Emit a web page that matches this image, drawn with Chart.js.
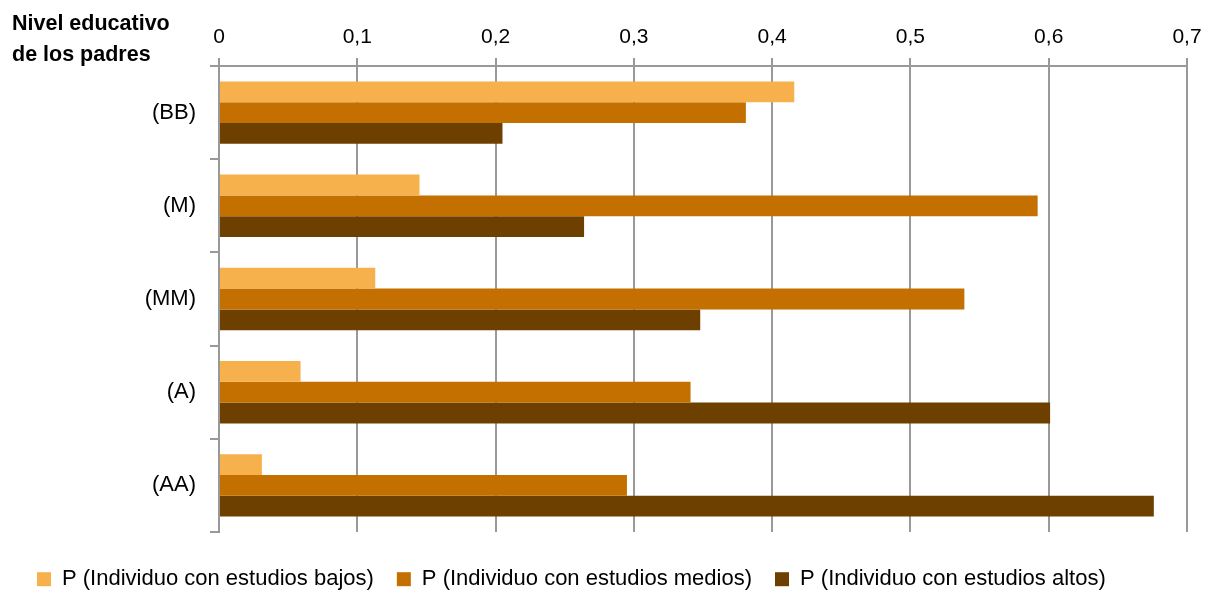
<!DOCTYPE html>
<html>
<head>
<meta charset="utf-8">
<script src="https://cdn.jsdelivr.net/npm/chart.js@4"></script>
<style>
  body { margin: 0; background: #fff; }
  #wrap { position: relative; width: 1221px; height: 593px; }
  #titulo {
    position: absolute; left: 12px; top: 8px;
    font-family: "Liberation Sans Narrow", "Arial Narrow", "Liberation Sans", sans-serif;
    font-weight: bold; font-size: 21.5px; line-height: 31px; color: #000;
  }
</style>
</head>
<body>
<div id="wrap">
  <canvas id="myChart" width="1221" height="593"></canvas>
  <div id="titulo">Nivel educativo<br>de los padres</div>
</div>
<script>
const labels = ["(BB)", "(M)", "(MM)", "(A)", "(AA)"];
const bajos = [0.416, 0.145, 0.113, 0.059, 0.031];
const medios = [0.381, 0.592, 0.539, 0.341, 0.295];
const altos = [0.205, 0.264, 0.348, 0.601, 0.676];

const fuente = "'Liberation Sans Narrow', 'Arial Narrow', 'Liberation Sans', sans-serif";
Chart.defaults.font.family = fuente;
Chart.defaults.color = "#000";

const data = {
    labels: labels,
    datasets: [
        {
            label: "P (Individuo con estudios bajos)",
            backgroundColor: "#f6b04c",
            data: bajos,
        },
        {
            label: "P (Individuo con estudios medios)",
            backgroundColor: "#c37000",
            data: medios,
        },
        {
            label: "P (Individuo con estudios altos)",
            backgroundColor: "#6e4000",
            data: altos,
        },
    ],
};

const config = {
    type: "bar",
    data: data,
    options: {
        indexAxis: "y",
        responsive: false,
        animation: false,
        layout: { padding: { top: 0, right: 34, bottom: 0, left: 14 } },
        datasets: { bar: { categoryPercentage: 0.67, barPercentage: 1 } },
        scales: {
            x: {
                position: "top",
                min: 0,
                max: 0.7,
                ticks: {
                    stepSize: 0.1,
                    font: { size: 21 },
                    padding: 8,
                    callback: (v) => {
                        const r = Math.round(v * 10) / 10;
                        return r === 0 ? "0" : r.toFixed(1).replace(".", ",");
                    },
                },
                grid: { color: "#999", lineWidth: 2, tickLength: 8 },
                border: { color: "#999", width: 2 },
                afterFit: (s) => { s.height = 66; },
            },
            y: {
                ticks: { font: { size: 22 }, padding: 14 },
                grid: { drawOnChartArea: false, color: "#999", lineWidth: 2, tickLength: 9, offset: true },
                border: { color: "#999", width: 2 },
                afterFit: (s) => { s.width = 205; },
            },
        },
        plugins: {
            legend: {
                position: "bottom",
                align: "start",
                maxHeight: 61,
                title: { display: true, text: "", font: { size: 1 }, padding: 6 },
                labels: {
                    boxWidth: 14,
                    boxHeight: 14,
                    font: { size: 22 },
                    padding: 23,
                },
            },
            tooltip: { enabled: false },
        },
    },
};

const myChart = new Chart(document.getElementById("myChart"), config);
</script>
</body>
</html>
